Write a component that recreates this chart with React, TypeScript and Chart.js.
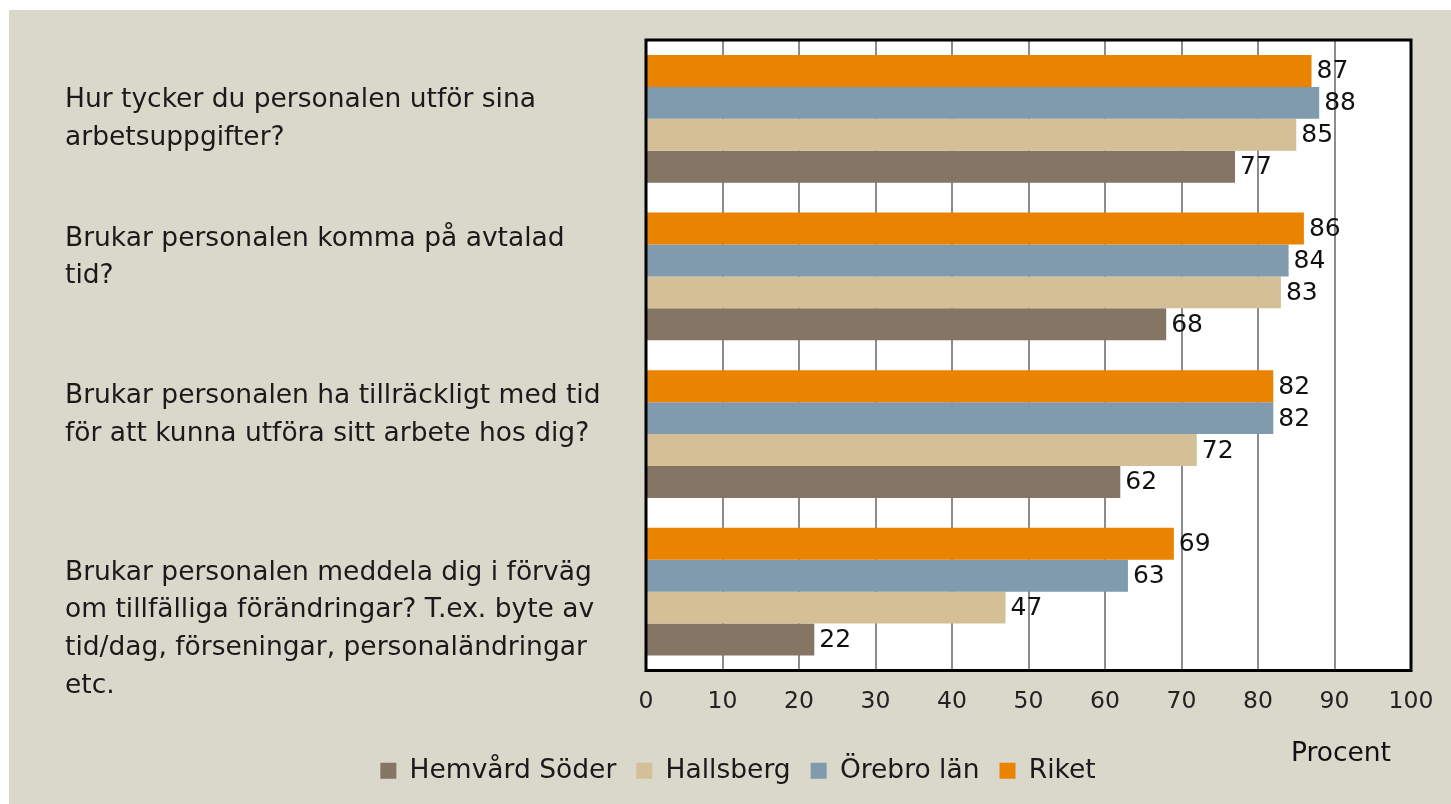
import React, { useEffect, useRef } from "react";
import { Chart, registerables } from "chart.js";

Chart.register(...registerables);

const categories: string[][] = [
  ["Hur tycker du personalen utför sina", "arbetsuppgifter?"],
  ["Brukar personalen komma på avtalad", "tid?"],
  ["Brukar personalen ha tillräckligt med tid", "för att kunna utföra sitt arbete hos dig?"],
  [
    "Brukar personalen meddela dig i förväg",
    "om tillfälliga förändringar? T.ex. byte av",
    "tid/dag, förseningar, personaländringar",
    "etc.",
  ],
];
// vertical nudge of each category label, in half-lines (+ = down, - = up)
const labelNudge = [0, -1, -1, 2];

const seriesNames = ["Riket", "Örebro län", "Hallsberg", "Hemvård Söder"];
const riket = [87, 86, 82, 69];
const orebroLan = [88, 84, 82, 63];
const hallsberg = [85, 83, 72, 47];
const hemvardSoder = [77, 68, 62, 22];
const seriesColors = ["#E98300", "#7F9BAD", "#D4BF96", "#857565"];
const axisTitle = "Procent";

const FONT = "'DejaVu Sans', sans-serif";
const FS_TEXT = 26.5;
const FS_NUM = 25;
const FS_TICK = 23.5;

export default function App() {
  const ref = useRef<HTMLCanvasElement>(null);

  useEffect(() => {
    if (!ref.current) return;
    const values = [riket, orebroLan, hallsberg, hemvardSoder];

    const framePlugin = {
      id: "frame",
      beforeDraw(chart: any) {
        const { ctx, chartArea: a } = chart;
        ctx.save();
        ctx.fillStyle = "#FFFFFF";
        ctx.fillRect(a.left, a.top, a.right - a.left, a.bottom - a.top);
        ctx.restore();
      },
      afterDatasetsDraw(chart: any) {
        const { ctx, chartArea: a } = chart;
        ctx.save();
        ctx.strokeStyle = "#000000";
        ctx.lineWidth = 3;
        ctx.strokeRect(a.left, a.top, a.right - a.left, a.bottom - a.top);
        ctx.fillStyle = "#111111";
        ctx.font = `${FS_NUM}px ${FONT}`;
        ctx.textBaseline = "middle";
        ctx.textAlign = "left";
        chart.data.datasets.forEach((ds: any, i: number) => {
          const meta = chart.getDatasetMeta(i);
          meta.data.forEach((bar: any, j: number) => {
            ctx.fillText(String(ds.data[j]), bar.x + 5, bar.y + 1);
          });
        });
        ctx.font = `${FS_TEXT}px ${FONT}`;
        ctx.textAlign = "right";
        ctx.fillText(axisTitle, a.right - 20, a.bottom + 84);
        ctx.restore();
      },
    };

    const chart = new Chart(ref.current, {
      type: "bar",
      data: {
        labels: categories,
        datasets: seriesNames.map((name, i) => ({
          label: name,
          data: values[i],
          backgroundColor: seriesColors[i],
          borderWidth: 0,
          categoryPercentage: 0.81,
          barPercentage: 1,
        })),
      },
      options: {
        indexAxis: "y",
        animation: false,
        responsive: false,
        layout: { padding: { left: 56, top: 30, right: 40, bottom: 10 } },
        scales: {
          x: {
            min: 0,
            max: 100,
            ticks: {
              stepSize: 10,
              color: "#222222",
              font: { family: FONT, size: FS_TICK },
              padding: 17,
              maxRotation: 0,
              autoSkip: false,
            },
            grid: { color: "#8C8C8C", lineWidth: 2, drawTicks: false },
            border: { display: false },
            afterFit(scale: any) {
              scale.height = 67;
              scale.paddingLeft = 0;
              scale.paddingRight = 0;
            },
          },
          y: {
            ticks: {
              crossAlign: "far",
              autoSkip: false,
              color: "#1A1A1A",
              font: { family: FONT, size: FS_TEXT, lineHeight: 1.42 },
              callback(_v: any, i: number) {
                const lines = categories[i].slice();
                const n = labelNudge[i];
                for (let k = 0; k < Math.abs(n); k++) {
                  if (n > 0) lines.unshift("");
                  else lines.push("");
                }
                return lines;
              },
            },
            grid: { display: false },
            border: { display: false },
            afterFit(scale: any) {
              scale.width = 581;
              scale.paddingTop = 0;
              scale.paddingBottom = 0;
            },
          },
        },
        plugins: {
          legend: {
            position: "bottom",
            reverse: true,
            labels: {
              boxWidth: 16,
              boxHeight: 16,
              padding: 20,
              color: "#1A1A1A",
              font: { family: FONT, size: FS_TEXT },
            },
          },
          tooltip: { enabled: false },
        },
      },
      plugins: [framePlugin],
    });
    return () => chart.destroy();
  }, []);

  return (
    <div
      style={{
        position: "fixed",
        left: 9,
        top: 10,
        width: 1442,
        height: 794,
        background: "#DAD7CB",
      }}
    >
      <canvas ref={ref} width={1442} height={794} style={{ display: "block" }} />
    </div>
  );
}
